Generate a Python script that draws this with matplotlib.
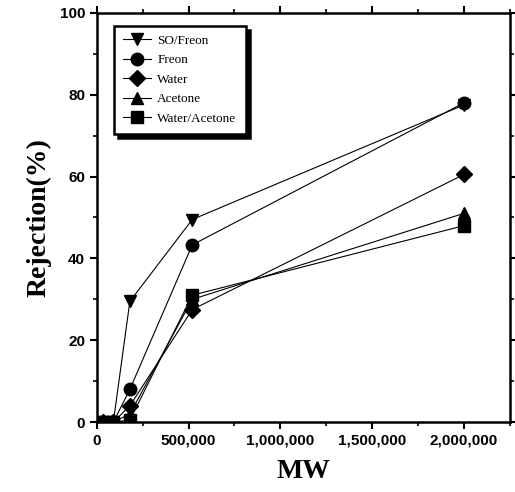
import matplotlib
matplotlib.use("Agg")
import matplotlib.pyplot as plt
from matplotlib.ticker import FuncFormatter, MultipleLocator

mw = [35000, 90000, 180000, 520000, 2000000]
series_names = ["SO/Freon", "Freon", "Water", "Acetone", "Water/Acetone"]
so_freon = [0, 0, 29.5, 49.5, 77.5]
freon = [0, 0, 8, 43.3, 78]
water = [0, 0, 4, 27.5, 60.5]
acetone = [0, 0, 2, 30, 51]
water_acetone = [0, 0, 0.5, 31, 48]
markers = ["v", "o", "D", "^", "s"]

fig = plt.figure(figsize=(5.15, 4.92), dpi=100)
ax = fig.add_axes([0.188, 0.142, 0.802, 0.832])

for y, m, name in zip([so_freon, freon, water, acetone, water_acetone], markers, series_names):
    ms = 8 if m == "D" else 9
    ax.plot(mw, y, color="black", linewidth=0.8, marker=m, markersize=ms,
            markerfacecolor="black", markeredgecolor="black", label=name)

ax.set_xlim(0, 2250000)
ax.set_ylim(0, 100)
ax.xaxis.set_major_locator(MultipleLocator(500000))
ax.xaxis.set_minor_locator(MultipleLocator(250000))
ax.yaxis.set_major_locator(MultipleLocator(20))
ax.yaxis.set_minor_locator(MultipleLocator(10))
ax.xaxis.set_major_formatter(FuncFormatter(lambda v, p: "0" if v == 0 else f"{int(v):,}"))

for s in ax.spines.values():
    s.set_linewidth(1.8)
ax.tick_params(which="major", direction="out", length=5, width=1.5, labelsize=11)
ax.tick_params(which="minor", direction="out", length=3, width=1.2)
ax.tick_params(top=True, right=True, which="both")
for lab in ax.get_xticklabels() + ax.get_yticklabels():
    lab.set_family("Liberation Sans")
    lab.set_weight("bold")

ax.set_xlabel("MW", family="Liberation Serif", fontsize=20, weight="bold", labelpad=8)
ax.set_ylabel("Rejection(%)", family="Liberation Serif", fontsize=20, weight="bold", labelpad=6)

leg = ax.legend(loc="upper left", bbox_to_anchor=(0.025, 0.985), frameon=True, fancybox=False,
                edgecolor="black", handlelength=2.1, handletextpad=0.5, borderpad=0.7,
                labelspacing=0.55, prop={"family": "Liberation Serif", "size": 9.5},
                shadow={"color": "black", "alpha": 1, "ox": 3, "oy": -3})
leg.get_frame().set_linewidth(1.8)

fig.savefig("out.png", dpi=100)
